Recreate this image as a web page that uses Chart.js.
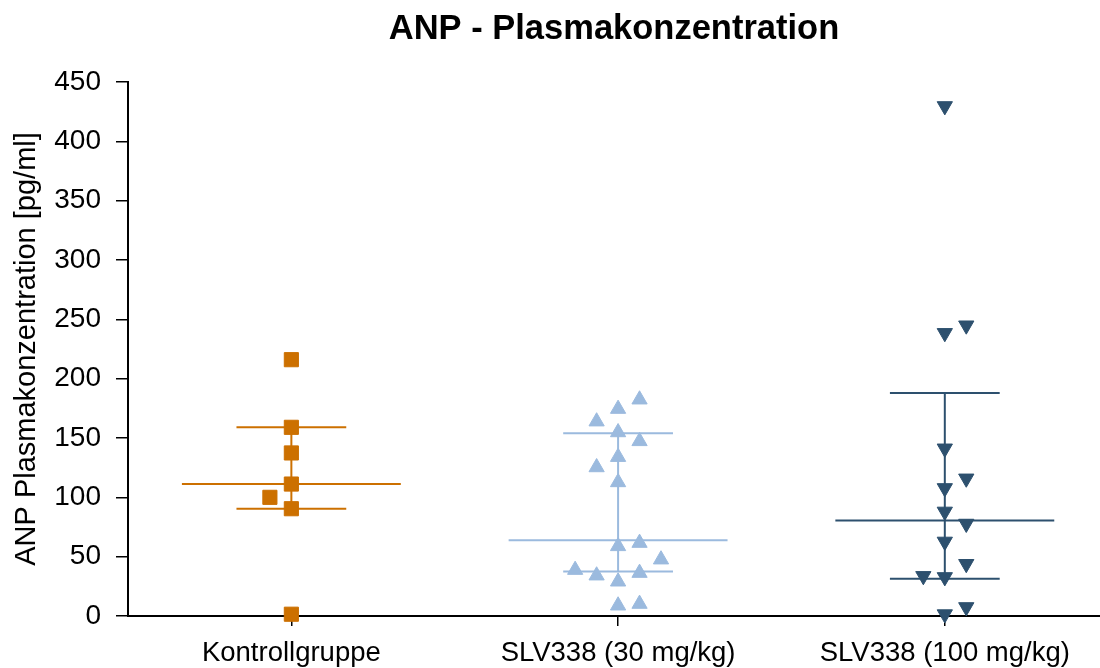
<!DOCTYPE html>
<html>
<head>
<meta charset="utf-8">
<script src="https://cdn.jsdelivr.net/npm/chart.js@4"></script>
<style>
  html, body { margin: 0; padding: 0; background: #ffffff; }
  #wrap { width: 1100px; height: 668px; }
</style>
</head>
<body>
<div id="wrap"><canvas id="chart" width="1100" height="668"></canvas></div>
<script>
// Groups shown along the x axis
const groups = ['Kontrollgruppe', 'SLV338 (30 mg/kg)', 'SLV338 (100 mg/kg)'];
const yTicks = [0, 50, 100, 150, 200, 250, 300, 350, 400, 450];

// ANP plasma concentration per animal [pg/ml]
const kontrolle = [216, 159, 137.4, 111.2, 100, 90.4, 1.5];
const slv30 = [182.4, 174.5, 163.9, 154.8, 147.3, 134, 125.3, 112.7, 58.8, 61.6, 47.6, 38.8, 34.1, 29, 36.3, 8.8, 10.2];
const slv100 = [429.7, 238.5, 244.9, 141.2, 115.9, 107.8, 88, 77.8, 62.7, 43.9, 33.7, 32.8, 7.5, 1.5];

// Median and interquartile range per group
const medians = [111.2, 63.8, 80.4];
const quart1 = [90.4, 37.4, 31.3];
const quart3 = [159, 154, 188];

// Side-by-side column of each symbol inside its group (0 = centre)
const kontrolleCol = [0, 0, 0, 0, -1, 0, 0];
const slv30Col = [1, 0, -1, 0, 1, 0, -1, 0, 0, 1, 2, -2, -1, 0, 1, 0, 1];
const slv100Col = [0, 0, 1, 0, 1, 0, 0, 1, 0, 1, -1, 0, 1, 0];

const COL_STEP = 0.0657;
const MED_HALF = 0.335;
const QRT_HALF = 0.168;

const colors = ['#CC7000', '#9BBADE', '#2D506E'];
const FONT = "'Liberation Sans', Arial, Helvetica, sans-serif";

function points(values, cols, g) {
  return values.map((v, i) => ({ x: g + 1 + cols[i] * COL_STEP, y: v }));
}

const symbolSets = [
  { data: points(kontrolle, kontrolleCol, 0), pointStyle: 'rect', pointRadius: 10, rotation: 0 },
  { data: points(slv30, slv30Col, 1), pointStyle: 'triangle', pointRadius: 8.8, rotation: 0 },
  { data: points(slv100, slv100Col, 2), pointStyle: 'triangle', pointRadius: 8.8, rotation: 180 }
];

const datasets = [];
symbolSets.forEach((s, g) => {
  datasets.push({
    type: 'scatter',
    data: s.data,
    pointStyle: s.pointStyle,
    pointRadius: s.pointRadius,
    rotation: s.rotation,
    backgroundColor: colors[g],
    borderColor: colors[g],
    borderWidth: 1,
    showLine: false,
    clip: false,
    order: 0
  });
});

// Median line, quartile lines and the connecting whisker of each group
groups.forEach((name, g) => {
  const c = g + 1;
  const segs = [
    [{ x: c - MED_HALF, y: medians[g] }, { x: c + MED_HALF, y: medians[g] }],
    [{ x: c - QRT_HALF, y: quart1[g] }, { x: c + QRT_HALF, y: quart1[g] }],
    [{ x: c - QRT_HALF, y: quart3[g] }, { x: c + QRT_HALF, y: quart3[g] }],
    [{ x: c, y: quart1[g] }, { x: c, y: quart3[g] }]
  ];
  segs.forEach(seg => {
    datasets.push({
      type: 'scatter',
      data: seg,
      showLine: true,
      borderColor: colors[g],
      borderWidth: 2,
      pointRadius: 0,
      fill: false,
      order: 1
    });
  });
});

new Chart(document.getElementById('chart'), {
  type: 'scatter',
  data: { datasets },
  options: {
    responsive: false,
    animation: false,
    devicePixelRatio: 1,
    layout: { padding: 0, autoPadding: false },
    plugins: {
      legend: { display: false },
      tooltip: { enabled: false },
      title: {
        display: true,
        fullSize: false,
        text: 'ANP - Plasmakonzentration',
        color: '#000000',
        font: { family: FONT, size: 34.5, weight: 'bold' },
        padding: { top: 8.5, bottom: 32.1 }
      }
    },
    scales: {
      x: {
        type: 'linear',
        min: 0.5,
        max: 3.475,
        afterBuildTicks: (scale) => { scale.ticks = groups.map((n, i) => ({ value: i + 1 })); },
        afterFit: (scale) => {
          scale.height = 52;
          scale.paddingLeft = 0;
          scale.paddingRight = 0;
        },
        ticks: {
          callback: (v) => groups[Math.round(v) - 1] || '',
          color: '#000000',
          font: { family: FONT, size: 27.5 },
          padding: 11,
          maxRotation: 0,
          autoSkip: false
        },
        grid: { drawOnChartArea: false, drawTicks: true, tickLength: 10, color: '#000000', lineWidth: 1.5 },
        border: { display: true, color: '#000000', width: 2 }
      },
      y: {
        type: 'linear',
        min: 0,
        max: 450,
        afterBuildTicks: (scale) => { scale.ticks = yTicks.map(v => ({ value: v })); },
        afterFit: (scale) => { scale.width = 128; },
        ticks: {
          color: '#000000',
          font: { family: FONT, size: 28 },
          padding: 15
        },
        grid: { drawOnChartArea: false, drawTicks: true, tickLength: 12, color: '#000000', lineWidth: 1.5 },
        border: { display: true, color: '#000000', width: 2 },
        title: {
          display: true,
          text: 'ANP Plasmakonzentration [pg/ml]',
          color: '#000000',
          font: { family: FONT, size: 29 },
          padding: { top: 10, bottom: 0 }
        }
      }
    }
  }
});
</script>
</body>
</html>
